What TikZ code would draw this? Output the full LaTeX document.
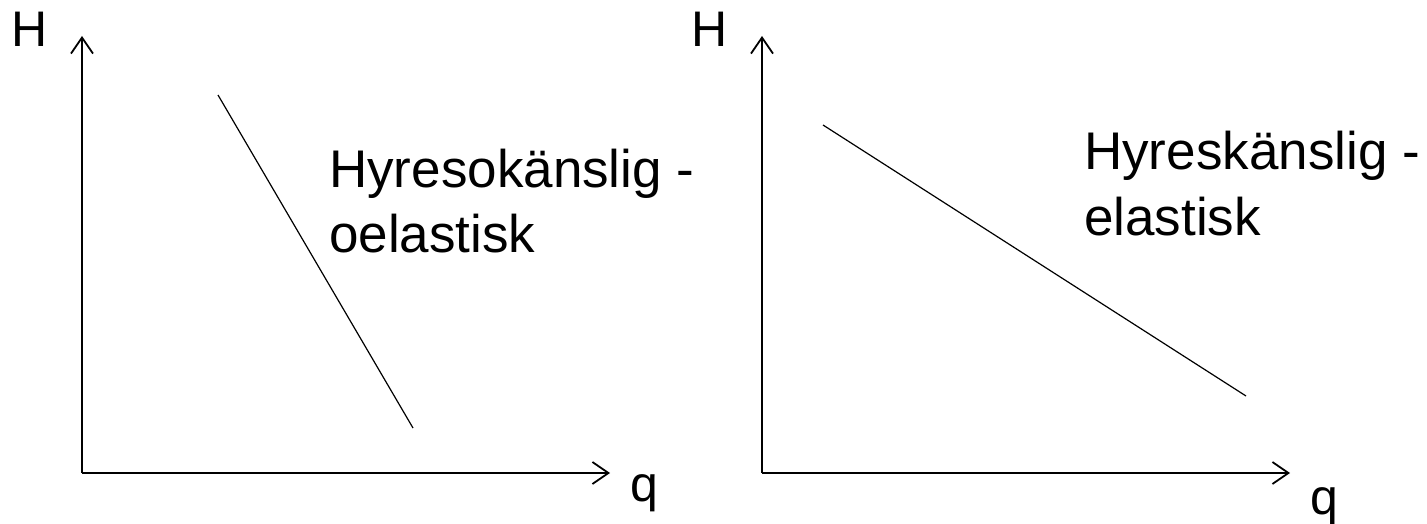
\documentclass[tikz,border=0pt]{standalone}
\usepackage{fontspec}
\setmainfont{Liberation Sans}
\usetikzlibrary{arrows.meta}
\begin{document}
\begin{tikzpicture}[x=1pt,y=-1pt,
  axis/.style={line width=1.8pt,-{Straight Barb[length=16pt,width=22pt,line width=1.8pt]}},
  demand/.style={line width=1.2pt},
  lbl/.style={font=\fontsize{50}{60}\selectfont,anchor=base west,inner sep=0pt},
  curvelbl/.style={font=\fontsize{53}{65}\selectfont,anchor=base west,inner sep=0pt}]
\useasboundingbox (0,0) rectangle (1427,524);
% left diagram
\coordinate (o1) at (82,473);
\coordinate (y1) at (82,36);
\coordinate (x1) at (610,473);
\draw[axis] (o1) -- (y1);
\draw[axis] (o1) -- (x1);
\node[lbl] (H1) at (11,47) {H};
\node[lbl] (q1) at (630,501) {q};
\coordinate (a1) at (218,95);
\coordinate (b1) at (413,428);
\draw[demand] (a1) -- (b1);
\node[curvelbl] (t1a) at (329,187) {Hyresokänslig -};
\node[curvelbl] (t1b) at (329,252) {oelastisk};
% right diagram
\coordinate (o2) at (762,473);
\coordinate (y2) at (762,36);
\coordinate (x2) at (1290,473);
\draw[axis] (o2) -- (y2);
\draw[axis] (o2) -- (x2);
\node[lbl] (H2) at (691,47) {H};
\node[lbl] (q2) at (1310,514) {q};
\coordinate (a2) at (823,125);
\coordinate (b2) at (1246,396);
\draw[demand] (a2) -- (b2);
\node[curvelbl] (t2a) at (1084,170) {Hyreskänslig -};
\node[curvelbl] (t2b) at (1084,235) {elastisk};
\end{tikzpicture}
\end{document}
